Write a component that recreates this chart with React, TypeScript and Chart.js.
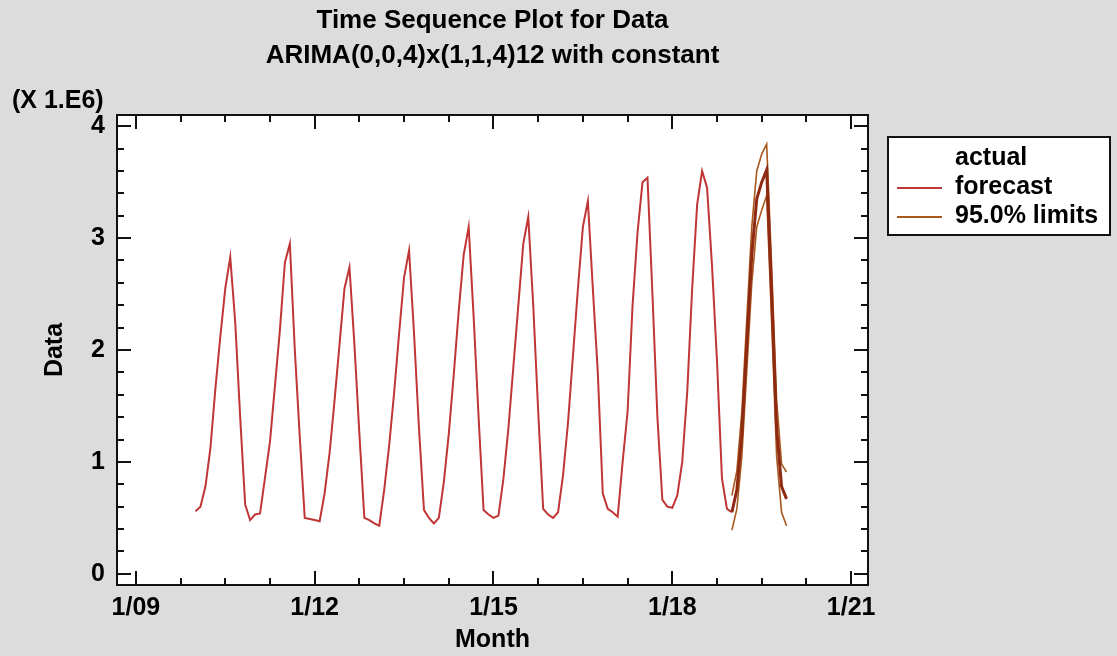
import React, { useEffect, useRef } from "react";
import { Chart, registerables } from "chart.js";

Chart.register(...registerables);

// ---- Data (values in millions, monthly, x = months since Jan 2009) ----
const firstMonthIndex = 12; // Jan 2010
const fitted2010 = [0.56, 0.6, 0.78, 1.12, 1.65, 2.12, 2.55, 2.83, 2.25, 1.4, 0.62, 0.48];
const fitted2011 = [0.53, 0.54, 0.86, 1.18, 1.68, 2.18, 2.78, 2.95, 2.0, 1.22, 0.5, 0.49];
const fitted2012 = [0.48, 0.47, 0.72, 1.08, 1.55, 2.05, 2.55, 2.74, 2.05, 1.25, 0.5, 0.48];
const fitted2013 = [0.45, 0.43, 0.75, 1.15, 1.62, 2.15, 2.65, 2.89, 2.15, 1.3, 0.57, 0.5];
const fitted2014 = [0.45, 0.5, 0.82, 1.25, 1.78, 2.35, 2.85, 3.1, 2.3, 1.4, 0.57, 0.53];
const fitted2015 = [0.5, 0.52, 0.85, 1.3, 1.85, 2.4, 2.95, 3.19, 2.4, 1.45, 0.58, 0.53];
const fitted2016 = [0.5, 0.55, 0.88, 1.35, 1.95, 2.55, 3.1, 3.33, 2.55, 1.8, 0.72, 0.58];
const fitted2017 = [0.55, 0.51, 1.0, 1.45, 2.4, 3.05, 3.5, 3.54, 2.5, 1.4, 0.66, 0.6];
const fitted2018 = [0.59, 0.7, 1.0, 1.62, 2.55, 3.3, 3.6, 3.45, 2.75, 1.9, 0.85, 0.58];
const forecastStartIndex = 120; // Jan 2019
const forecast2019 = [0.55, 0.75, 1.25, 2.05, 2.85, 3.35, 3.5, 3.61, 2.5, 1.3, 0.78, 0.67];
const upper2019 = [0.7, 0.92, 1.45, 2.28, 3.1, 3.6, 3.75, 3.84, 2.75, 1.55, 0.98, 0.91];
const lower2019 = [0.39, 0.58, 1.05, 1.82, 2.6, 3.1, 3.25, 3.38, 2.25, 1.05, 0.55, 0.43];

const xTickValues = [0, 36, 72, 108, 144];
const xTickLabels = ["1/09", "1/12", "1/15", "1/18", "1/21"];
const yTickValues = [0, 1, 2, 3, 4];
const yTickLabels = ["0", "1", "2", "3", "4"];
const legendLabels = ["actual", "forecast", "95.0% limits"];
const titleLines = ["Time Sequence Plot for Data", "ARIMA(0,0,4)x(1,1,4)12 with constant"];
const unitLabel = "(X 1.E6)";

// ---- Styles ----
const FONT = '"Liberation Sans", Arial, sans-serif';
const BG = "#dcdcdc";
const RED = "#c03535";
const DARK = "#8e2a12";
const BROWN = "#a9581f";

export default function App() {
  const ref = useRef<HTMLCanvasElement | null>(null);

  useEffect(() => {
    document.body.style.margin = "0";
    const canvas = ref.current;
    if (!canvas) return;

    const fittedAll = [
      ...fitted2010, ...fitted2011, ...fitted2012, ...fitted2013, ...fitted2014,
      ...fitted2015, ...fitted2016, ...fitted2017, ...fitted2018,
    ];
    const forecastPoints = [
      ...fittedAll.map((v, i) => ({ x: firstMonthIndex + i, y: v })),
      ...forecast2019.map((v, i) => ({ x: forecastStartIndex + i, y: v })),
    ];
    const upperPoints = upper2019.map((v, i) => ({ x: forecastStartIndex + i, y: v }));
    const lowerPoints = lower2019.map((v, i) => ({ x: forecastStartIndex + i, y: v }));
    const fittedCount = fittedAll.length;

    const decor = {
      id: "decor",
      beforeDraw(chart: any) {
        const { ctx, chartArea: a } = chart;
        ctx.save();
        ctx.fillStyle = BG;
        ctx.fillRect(0, 0, chart.width, chart.height);
        ctx.fillStyle = "#ffffff";
        ctx.fillRect(a.left, a.top, a.right - a.left, a.bottom - a.top);
        ctx.restore();
      },
      afterDraw(chart: any) {
        const { ctx, chartArea: a, scales } = chart;
        const xs = scales.x;
        const ys = scales.y;
        ctx.save();
        // frame
        ctx.strokeStyle = "#111";
        ctx.lineWidth = 2;
        ctx.strokeRect(a.left, a.top, a.right - a.left, a.bottom - a.top);
        // ticks (inward, all four sides)
        const major = 14;
        const minor = 7;
        ctx.lineWidth = 2;
        ctx.beginPath();
        for (let m = 0; m <= xs.max; m += 9) {
          if (m < xs.min) continue;
          const px = Math.round(xs.getPixelForValue(m));
          const len = m % 36 === 0 ? major : minor;
          ctx.moveTo(px, a.bottom);
          ctx.lineTo(px, a.bottom - len);
          ctx.moveTo(px, a.top);
          ctx.lineTo(px, a.top + len);
        }
        for (let k = 0; k <= 20; k++) {
          const v = k * 0.2;
          const py = Math.round(ys.getPixelForValue(v));
          const len = k % 5 === 0 ? major : minor;
          ctx.moveTo(a.left, py);
          ctx.lineTo(a.left + len, py);
          ctx.moveTo(a.right, py);
          ctx.lineTo(a.right - len, py);
        }
        ctx.stroke();

        // titles
        ctx.fillStyle = "#000";
        ctx.textAlign = "center";
        ctx.textBaseline = "middle";
        ctx.font = `bold 26px ${FONT}`;
        const cx = (a.left + a.right) / 2;
        ctx.fillText(titleLines[0], cx, 21);
        ctx.fillText(titleLines[1], cx, 56);

        // unit label
        ctx.font = `bold 25px ${FONT}`;
        ctx.textAlign = "left";
        ctx.fillText(unitLabel, 12, 101);

        // legend
        const lx = 888, ly = 137, lw = 222, lh = 98;
        ctx.fillStyle = "#fff";
        ctx.fillRect(lx, ly, lw, lh);
        ctx.strokeStyle = "#111";
        ctx.lineWidth = 2;
        ctx.strokeRect(lx, ly, lw, lh);
        const rows = [158, 187, 216];
        const colors = [null, RED, BROWN];
        ctx.font = `bold 25px ${FONT}`;
        legendLabels.forEach((lab, i) => {
          const c = colors[i];
          if (c) {
            ctx.strokeStyle = c;
            ctx.lineWidth = 2;
            ctx.beginPath();
            ctx.moveTo(897, rows[i] + 1);
            ctx.lineTo(942, rows[i] + 1);
            ctx.stroke();
          }
          ctx.fillStyle = "#000";
          ctx.fillText(lab, 955, rows[i]);
        });
        ctx.restore();
      },
    };

    const chart = new Chart(canvas, {
      type: "line",
      data: {
        datasets: [
          {
            label: legendLabels[1],
            data: forecastPoints,
            borderColor: RED,
            borderWidth: 2,
            pointRadius: 0,
            tension: 0,
            segment: {
              borderColor: (c: any) => (c.p0DataIndex >= fittedCount ? DARK : RED),
              borderWidth: (c: any) => (c.p0DataIndex >= fittedCount ? 3 : 2),
            },
            order: 0,
          },
          {
            label: legendLabels[2],
            data: upperPoints,
            borderColor: BROWN,
            borderWidth: 1.6,
            pointRadius: 0,
            tension: 0,
            order: 1,
          },
          {
            label: legendLabels[2] + " (lower)",
            data: lowerPoints,
            borderColor: BROWN,
            borderWidth: 1.6,
            pointRadius: 0,
            tension: 0,
            order: 1,
          },
        ],
      },
      options: {
        responsive: false,
        animation: false,
        events: [],
        layout: { padding: { top: 115, right: 249, bottom: 0, left: 0 } },
        plugins: {
          legend: { display: false },
          title: { display: false },
          tooltip: { enabled: false },
        },
        scales: {
          x: {
            type: "linear",
            min: -3.8,
            max: 147.4,
            grid: { display: false, drawTicks: false },
            border: { display: false },
            afterBuildTicks: (s: any) => {
              s.ticks = xTickValues.map((v) => ({ value: v }));
            },
            afterFit: (s: any) => {
              s.height = 71;
            },
            ticks: {
              autoSkip: false,
              maxRotation: 0,
              padding: 8,
              color: "#000",
              font: { family: FONT, size: 25, weight: "bold" },
              callback: (v: any) => {
                const i = xTickValues.indexOf(Number(v));
                return i >= 0 ? xTickLabels[i] : "";
              },
            },
            title: {
              display: true,
              text: "Month",
              color: "#000",
              font: { family: FONT, size: 25, weight: "bold" },
              padding: { top: 0, bottom: 1 },
            },
          },
          y: {
            type: "linear",
            min: -0.1,
            max: 4.1,
            grid: { display: false, drawTicks: false },
            border: { display: false },
            afterBuildTicks: (s: any) => {
              s.ticks = yTickValues.map((v) => ({ value: v }));
            },
            afterFit: (s: any) => {
              s.width = 117;
            },
            ticks: {
              padding: 12,
              color: "#000",
              font: { family: FONT, size: 25, weight: "bold" },
              callback: (v: any) => {
                const i = yTickValues.indexOf(Number(v));
                return i >= 0 ? yTickLabels[i] : "";
              },
            },
            title: {
              display: true,
              text: "Data",
              color: "#000",
              font: { family: FONT, size: 25, weight: "bold" },
              padding: { top: 40, bottom: 0 },
            },
          },
        },
      },
      plugins: [decor],
    } as any);

    return () => chart.destroy();
  }, []);

  return (
    <div style={{ width: 1117, height: 656, background: BG }}>
      <canvas ref={ref} width={1117} height={656} style={{ display: "block" }} />
    </div>
  );
}
